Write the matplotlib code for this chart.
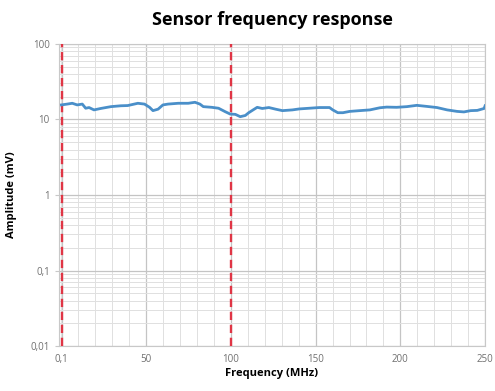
import matplotlib
matplotlib.use("Agg")
import matplotlib.pyplot as plt
from matplotlib.ticker import FixedLocator, LogLocator, NullFormatter, MultipleLocator

# frequency (MHz) and amplitude (mV)
freq = [0, 3.4, 6.4, 9.3, 12.3, 14.3, 16.3, 19.2, 23.2, 29.2, 35.1, 39.1, 45.1, 49.0,
        52.0, 54.0, 57.0, 59.9, 62.9, 68.9, 74.8, 78.8, 81.7, 83.7, 88.7, 92.7, 96.6,
        99.6, 102.6, 105.5, 108.5, 110.5, 115.5, 118.5, 122.4, 126.4, 130.4, 136.3,
        140.3, 146.3, 152.2, 158.2, 160.1, 163.1, 166.1, 170.1, 176.0, 182.0, 187.9,
        191.9, 197.8, 203.8, 209.7, 215.7, 221.6, 227.6, 233.5, 237.5, 241.5, 245.4,
        249.4, 250]
amp = [15.6, 16.0, 16.4, 15.6, 16.0, 14.1, 14.4, 13.4, 14.0, 14.8, 15.2, 15.3, 16.4, 16.0,
       14.5, 13.1, 13.7, 15.6, 16.0, 16.4, 16.4, 16.9, 16.0, 14.8, 14.5, 14.1, 12.7,
       11.8, 11.7, 10.9, 11.3, 12.3, 14.5, 14.0, 14.4, 13.7, 13.1, 13.4,
       13.8, 14.1, 14.4, 14.4, 13.4, 12.3, 12.3, 12.8, 13.1, 13.4, 14.3,
       14.6, 14.5, 14.8, 15.4, 14.9, 14.4, 13.4, 12.8, 12.6, 13.1, 13.2,
       14.0, 15.2]

markers = [0.1, 100]
y_ticks = [0.01, 0.1, 1, 10, 100]
y_labels = ["0,01", "0,1", "1", "10", "100"]
x_ticks = [0.1, 50, 100, 150, 200, 250]
x_labels = ["0,1", "50", "100", "150", "200", "250"]

plt.rcParams["font.family"] = ["Open Sans", "DejaVu Sans"]

fig = plt.figure(figsize=(4.95, 3.91), dpi=100)
ax = fig.add_axes([0.119, 0.115, 0.861, 0.7725])

ax.set_yscale("log")
ax.set_ylim(0.01, 100)
ax.set_xlim(-1.5, 250)

ax.yaxis.set_major_locator(FixedLocator(y_ticks))
ax.set_yticklabels(y_labels)
ax.yaxis.set_minor_locator(LogLocator(base=10, subs=range(2, 10)))
ax.yaxis.set_minor_formatter(NullFormatter())
ax.set_xticks(x_ticks)
ax.set_xticklabels(x_labels)
ax.xaxis.set_minor_locator(MultipleLocator(10))

ax.grid(which="major", color="#c4c4c4", linewidth=0.9)
ax.grid(which="minor", color="#e0e0e0", linewidth=0.7)
ax.set_axisbelow(True)

for v in markers:
    ax.axvline(v, color="#e03545", linestyle=(0, (3.5, 2)), linewidth=1.7, zorder=3)

ax.plot(freq, amp, color="#4a8fc9", linewidth=2, zorder=4)

for s in ax.spines.values():
    s.set_color("#c8c8c8")
    s.set_linewidth(0.8)

ax.tick_params(axis="both", which="major", labelsize=7, colors="#707070", length=3)
ax.tick_params(axis="x", which="major", length=0, pad=6)
ax.tick_params(axis="both", which="minor", length=0)
ax.tick_params(axis="y", which="major", color="#c8c8c8")

ax.set_title("Sensor frequency response", fontsize=13, fontweight="bold", pad=14)
ax.set_xlabel("Frequency (MHz)", fontsize=8, fontweight="bold", labelpad=2)
ax.set_ylabel("Amplitude (mV)", fontsize=8, fontweight="bold", labelpad=10)

fig.savefig("out.png", dpi=100)
